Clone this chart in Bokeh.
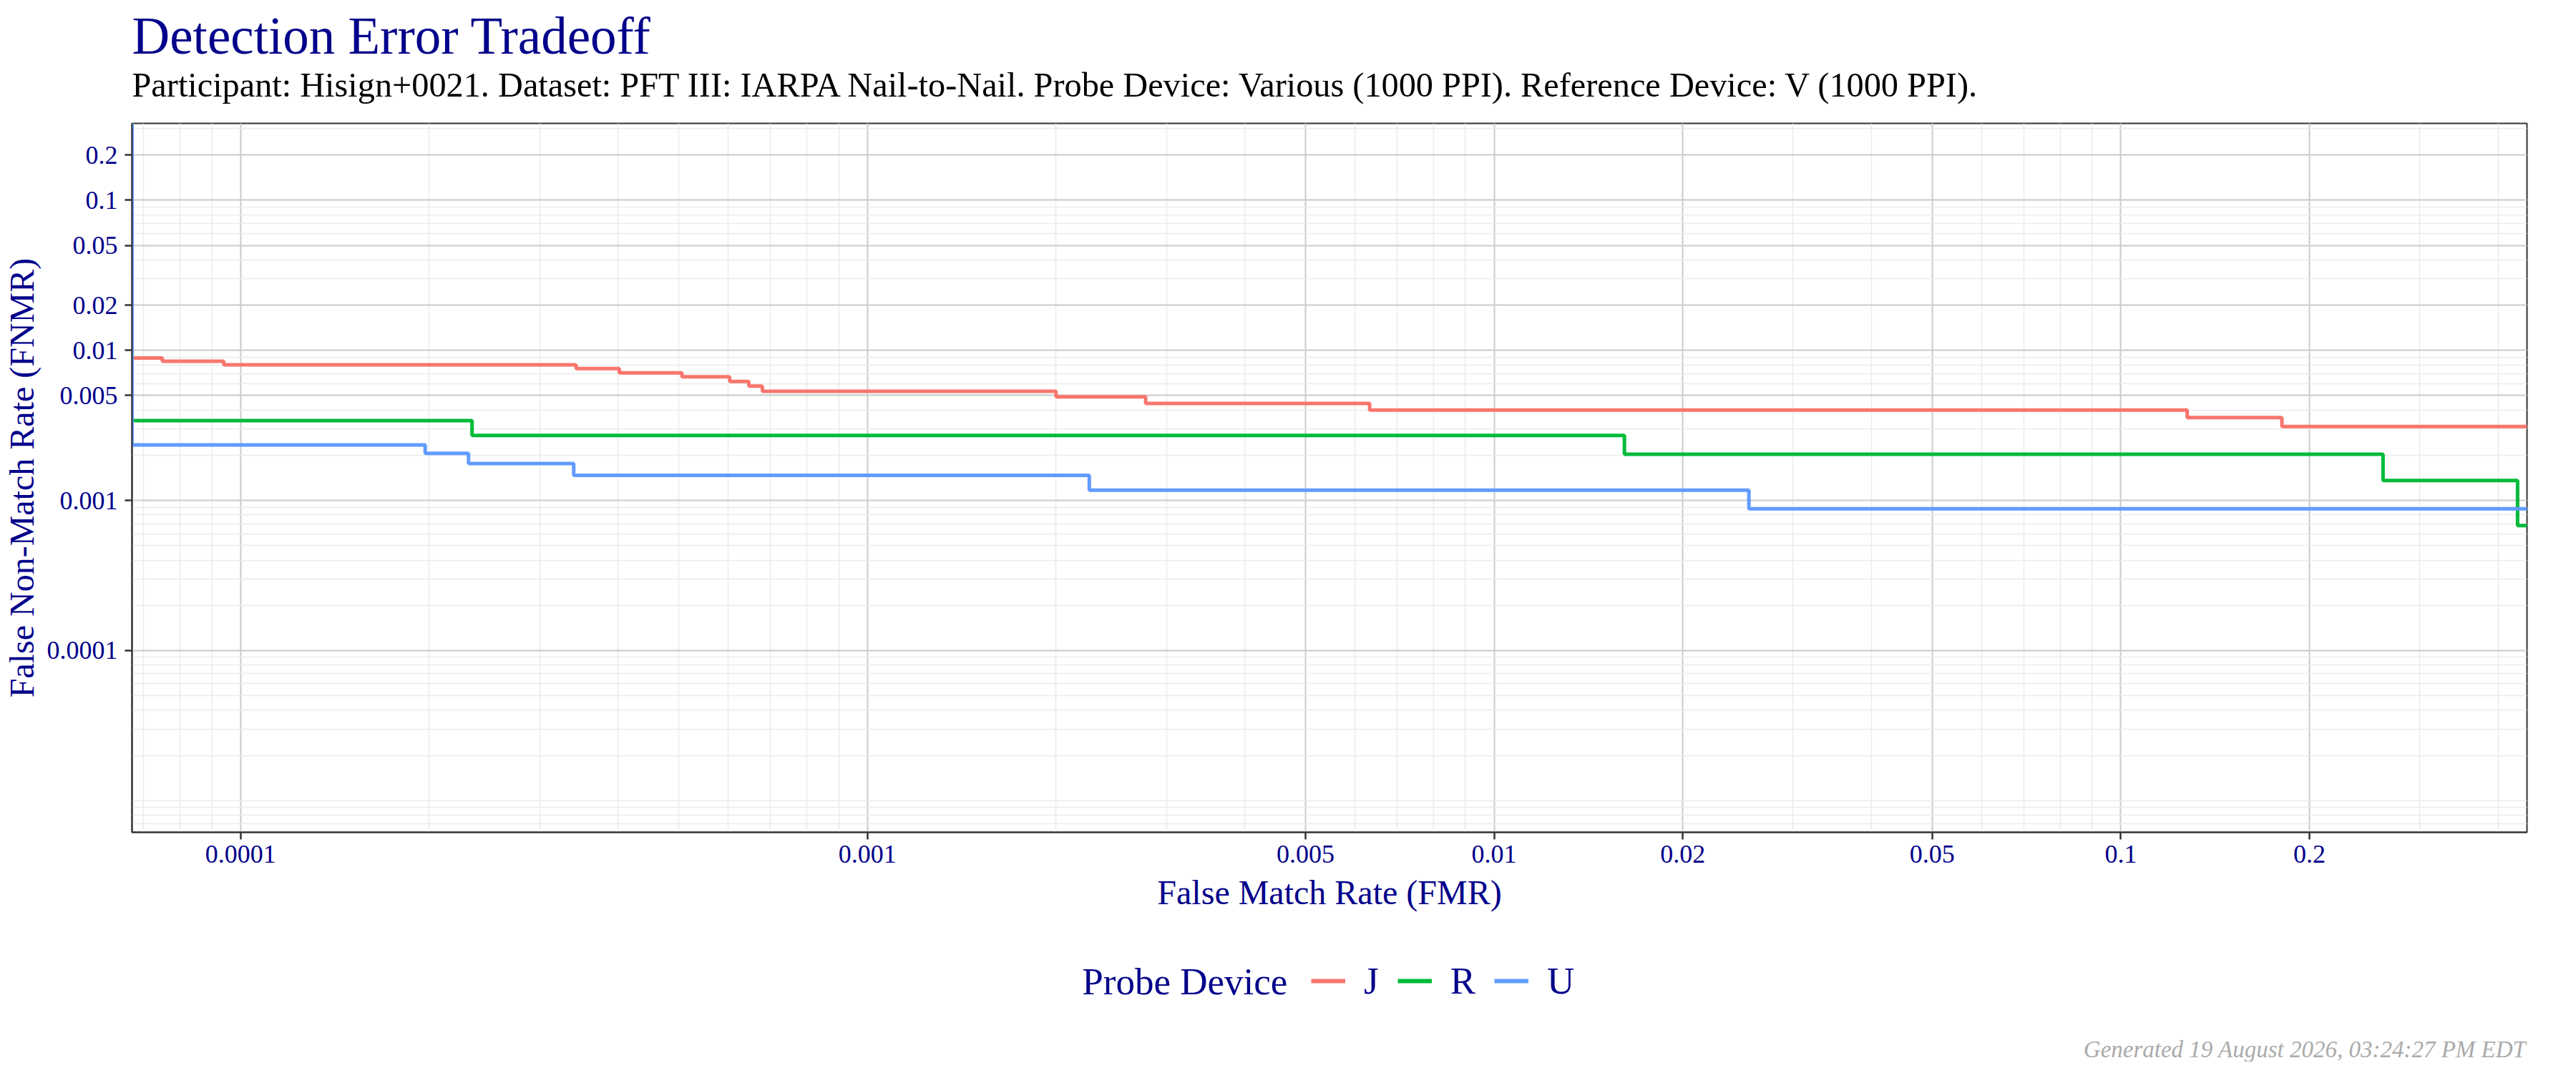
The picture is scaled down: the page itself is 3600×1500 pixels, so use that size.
from bokeh.embed import file_html
from bokeh.resources import INLINE
from bokeh.layouts import column
from bokeh.models import (Range1d, FixedTicker, CustomJSTickFormatter, Title,
                          Label, Legend, LegendItem)
from bokeh.plotting import figure

# DET curves (step "after": level holds until next FMR)
J_fmr = [6.71e-5, 6.71e-5, 7.5e-5, 9.4e-5, 3.43e-4, 4.02e-4, 5.06e-4, 6.03e-4,
         6.47e-4, 6.80e-4, 2.0e-3, 2.78e-3, 6.33e-3, 0.1276, 0.1807, 0.45]
J_fnmr = [1.0, 0.00889, 0.00845, 0.00800, 0.00756, 0.00708, 0.00666, 0.00621,
          0.00578, 0.00533, 0.00490, 0.00443, 0.00400, 0.00356, 0.00311, 0.00311]

R_fmr = [6.71e-5, 6.71e-5, 2.34e-4, 0.01614, 0.262, 0.4295, 0.45]
R_fnmr = [1.0, 0.00340, 0.00271, 0.00203, 0.001355, 0.000679, 0.000679]

U_fmr = [6.71e-5, 6.71e-5, 1.97e-4, 2.31e-4, 3.40e-4, 2.26e-3, 0.0255, 0.45]
U_fnmr = [1.0, 0.00234, 0.00206, 0.00176, 0.00147, 0.00117, 0.000879, 0.000879]

devices = ["J", "R", "U"]
colors = ["#F8766D", "#00BA38", "#619CFF"]

x_ticks = [0.0001, 0.001, 0.005, 0.01, 0.02, 0.05, 0.1, 0.2]
y_ticks = [0.0001, 0.001, 0.005, 0.01, 0.02, 0.05, 0.1, 0.2]
minor = [n * 10.0 ** k for k in range(-6, 1) for n in range(1, 10)]

title = "Detection Error Tradeoff"
subtitle = ("Participant: Hisign+0021. Dataset: PFT III: IARPA Nail-to-Nail. "
            "Probe Device: Various (1000 PPI). Reference Device: V (1000 PPI).")
legend_title = "Probe Device"
footer = "Generated 19 August 2026, 03:24:27 PM EDT"

FONT = "Liberation Serif"
NAVY = "#00008B"
W = 3584
H_MAIN = 1300
H_LEG = 184
LEFT, RIGHT = 181, 3531   # frame edges, shared by both panels

# ---- main DET panel ----
p = figure(width=W, height=H_MAIN, x_axis_type="log", y_axis_type="log",
           x_range=Range1d(6.71e-5, 0.4446), y_range=Range1d(6.15e-6, 0.325),
           output_backend="svg", toolbar_location=None,
           min_border_left=LEFT, min_border_right=W - RIGHT,
           min_border_top=172, min_border_bottom=H_MAIN - 1163)
p.background_fill_color = "white"
p.border_fill_color = "white"
p.outline_line_color = "#333333"
p.outline_line_width = 2

p.xaxis.ticker = FixedTicker(ticks=x_ticks, minor_ticks=minor)
p.yaxis.ticker = FixedTicker(ticks=y_ticks, minor_ticks=minor)
fmt = CustomJSTickFormatter(code="return tick.toString();")
p.xaxis.formatter = fmt
p.yaxis.formatter = fmt

for ax in [p.xaxis, p.yaxis]:
    ax.axis_line_color = "#333333"
    ax.axis_line_width = 2
    ax.major_tick_line_color = "#333333"
    ax.major_tick_line_width = 2.5
    ax.major_tick_out = 10
    ax.major_tick_in = 0
    ax.minor_tick_line_color = None
    ax.major_label_text_font = FONT
    ax.major_label_text_font_size = "36px"
    ax.major_label_text_color = NAVY
    ax.axis_label_text_font = FONT
    ax.axis_label_text_font_size = "48px"
    ax.axis_label_text_font_style = "normal"
    ax.axis_label_text_color = NAVY
p.xaxis.axis_label = "False Match Rate (FMR)"
p.yaxis.axis_label = "False Non-Match Rate (FNMR)"
p.xaxis.major_label_standoff = 8
p.yaxis.major_label_standoff = 10
p.xaxis.axis_label_standoff = 12
p.yaxis.axis_label_standoff = 6

for g in [p.xgrid, p.ygrid]:
    g.grid_line_color = "#CCCCCC"
    g.grid_line_width = 2
    g.minor_grid_line_color = "#EBEBEB"
    g.minor_grid_line_width = 1.5

series = [(J_fmr, J_fnmr), (R_fmr, R_fnmr), (U_fmr, U_fnmr)]
for col, (xs, ys) in zip(colors, series):
    p.step(xs, ys, mode="after", line_color=col, line_width=5)

p.add_layout(Title(text=subtitle, align="left", standoff=56,
                   text_font=FONT, text_font_size="48.3px",
                   text_font_style="normal", text_color="black"), "above")
p.add_layout(Title(text=title, align="left", standoff=-58,
                   text_font=FONT, text_font_size="73px",
                   text_font_style="normal", text_color=NAVY), "above")

# ---- legend strip + caption below (x in page pixels, y down) ----
q = figure(width=W, height=H_LEG, x_range=Range1d(LEFT, RIGHT),
           y_range=Range1d(H_LEG, 0),
           output_backend="svg", toolbar_location=None,
           x_axis_location=None, y_axis_location=None,
           min_border_left=LEFT, min_border_right=W - RIGHT,
           min_border_top=0, min_border_bottom=0)
q.grid.visible = False
q.outline_line_color = None
q.background_fill_color = "white"
q.border_fill_color = "white"

items = []
for name, col in zip(devices, colors):
    # legend proxy: one NaN point, draws nothing in the strip
    r = q.line([float("nan")], [float("nan")], line_color=col, line_width=6)
    items.append(LegendItem(label=name, renderers=[r]))

legend = Legend(items=items, orientation="horizontal",
                location=(1829 - LEFT, H_LEG - 41 - 60),
                glyph_width=48, glyph_height=60, label_height=60,
                label_standoff=26, spacing=26, padding=0, margin=0,
                border_line_color=None, background_fill_alpha=0,
                label_text_font=FONT, label_text_font_size="53px",
                label_text_color=NAVY)
q.add_layout(legend)

q.add_layout(Label(x=1510, y=71, text=legend_title, text_font=FONT,
                   text_font_size="53px", text_color=NAVY,
                   text_baseline="middle"))
q.add_layout(Label(x=RIGHT - 1, y=166, text=footer, text_font=FONT,
                   text_font_size="33px", text_font_style="italic",
                   text_color="#AAAAAA", text_align="right",
                   text_baseline="alphabetic"))

layout = column(p, q, spacing=0)
open("out.html", "w").write(file_html(layout, INLINE))
